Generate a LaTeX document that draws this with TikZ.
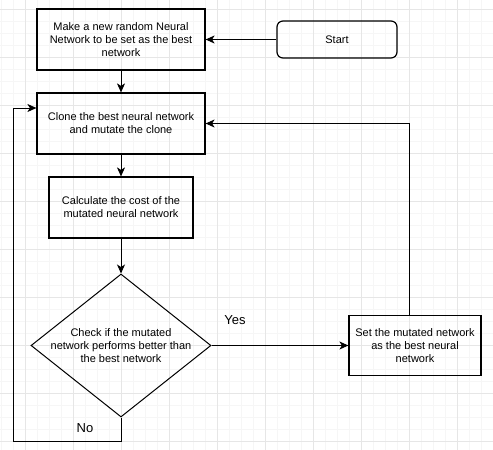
\documentclass[tikz,border=0pt]{standalone}
\usepackage{fontspec}
\setmainfont{Liberation Sans}
\usepackage{tikz}
\usetikzlibrary{positioning}
\usetikzlibrary{shapes.geometric}
\usetikzlibrary{arrows.meta}
\usepackage{xcolor}
\definecolor{gridminor}{HTML}{F6F6F6}
\definecolor{gridmajor}{HTML}{E6E6E6}

\begin{document}
\begin{tikzpicture}[x=1pt, y=-1pt, node distance=84pt,
	proc/.style = {draw, rectangle, line width=1.2pt, align=center, minimum width=168pt, minimum height=61pt, font=\fontsize{11}{13}\selectfont},
	term/.style = {draw, rectangle, rounded corners=6pt, line width=1.2pt, minimum width=120pt, minimum height=37pt, font=\fontsize{11}{13}\selectfont},
	test/.style = {draw, diamond, shape aspect=1.26, line width=1pt, align=center, inner sep=-5pt, minimum width=180pt, minimum height=143pt, font=\fontsize{11}{13}\selectfont},
	lbl/.style = {font=\fontsize{13}{15}\selectfont},
	arr/.style = {line width=1pt, -{Stealth[length=9pt, width=8pt, inset=2.5pt]}}]
	\useasboundingbox (0,0) rectangle (493,450);
	\fill[white] (0,0) rectangle (493,450);
	% background grid
	\foreach \x in {1,13,...,493} \draw[gridminor, line width=1pt] (\x,0) -- (\x,450);
	\foreach \y in {9,21,...,450} \draw[gridminor, line width=1pt] (0,\y) -- (493,\y);
	\foreach \x in {25,73,...,493} \draw[gridmajor, line width=1pt] (\x,0) -- (\x,450);
	\foreach \y in {9,57,...,450} \draw[gridmajor, line width=1pt] (0,\y) -- (493,\y);

	\node[proc] (new) at (121,39.5) {Make a new random Neural\\Network to be set as the best\\network};
	\node[term] (start) [right of=new, node distance=216pt] {Start};
	\node[proc] (clone) [below of=new] {Clone the best neural network\\and mutate the clone};
	\node[proc, minimum width=144pt] (cost) [below of=clone] {Calculate the cost of the\\mutated neural network};
	\node[test] (check) [below of=cost, node distance=138pt] {Check if the mutated\\network performs better than\\the best network};
	\node[proc, minimum width=132pt, minimum height=60pt] (set) [right of=check, node distance=294pt] {Set the mutated network\\as the best neural\\network};
	\node[lbl] (yes) at (235,320) {Yes};
	\node[lbl] (no) at (85,428) {No};

	\draw[arr] (start) -- (new);
	\draw[arr] (new) -- (clone);
	\draw[arr] (clone) -- (cost);
	\draw[arr] (cost) -- (check);
	\draw[arr] (check) -- (set);
	\draw[arr] ([xshift=-6pt]set.north) |- (clone);
	\draw[arr] (check.south) -- ++(0,24) -- ++(-108,0) |- ([yshift=15.5pt]clone.west);
\end{tikzpicture}
\end{document}
